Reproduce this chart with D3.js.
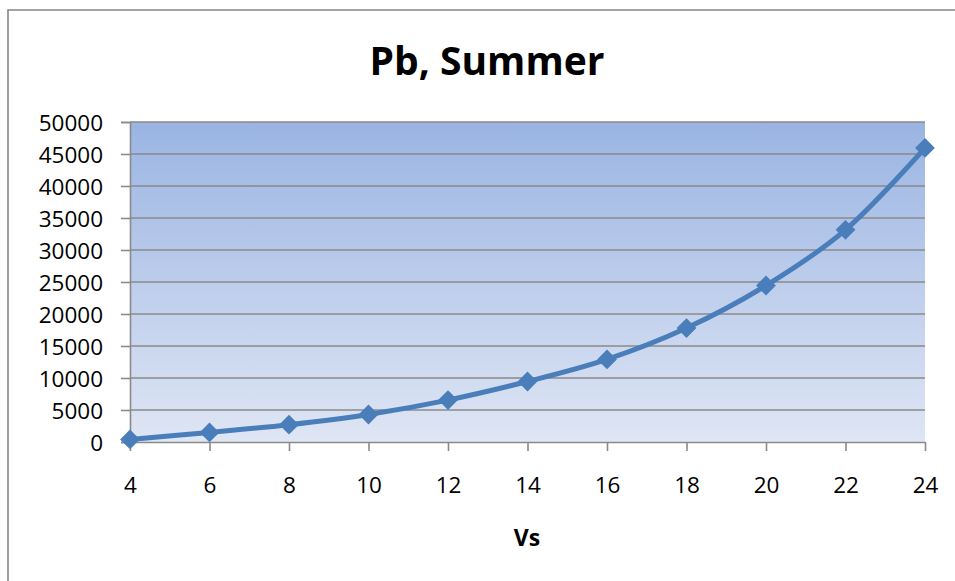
<!DOCTYPE html>
<html>
<head>
<meta charset="utf-8">
<script src="https://cdn.jsdelivr.net/npm/d3@7"></script>
<style>
  html, body { margin: 0; padding: 0; background: #fff; }
  svg { display: block; }
  text { font-family: "Open Sans", "Liberation Sans", Arial, sans-serif; fill: #000; }
</style>
</head>
<body>
<svg id="chart" width="955" height="581"></svg>
<script>
// Pb versus Vs, summer season
const vsValues = [4, 6, 8, 10, 12, 14, 16, 18, 20, 22, 24];
const pbValues = [400, 1500, 2700, 4300, 6550, 9450, 12900, 17800, 24450, 33150, 45950];
const xTickValues = [4, 6, 8, 10, 12, 14, 16, 18, 20, 22, 24];
const yTickValues = [0, 5000, 10000, 15000, 20000, 25000, 30000, 35000, 40000, 45000, 50000];
const chartTitle = "Pb, Summer";
const xAxisTitle = "Vs";

const FONT = "Open Sans, Liberation Sans, Arial, sans-serif";
const svg = d3.select("#chart");
const plot = { left: 130, right: 925, top: 122, bottom: 442 };

const x = d3.scaleLinear().domain([4, 24]).range([plot.left, plot.right]);
const y = d3.scaleLinear().domain([0, 50000]).range([plot.bottom, plot.top]);

// chart frame (left and top edges)
svg.append("path")
  .attr("d", `M8,581 L8,10 L955,10`)
  .attr("fill", "none")
  .attr("stroke", "#878787")
  .attr("stroke-width", 1.6);

// plot area gradient
const defs = svg.append("defs");
const grad = defs.append("linearGradient")
  .attr("id", "plotFill").attr("x1", 0).attr("y1", 0).attr("x2", 0).attr("y2", 1);
grad.append("stop").attr("offset", "0%").attr("stop-color", "#9ab4e3");
grad.append("stop").attr("offset", "100%").attr("stop-color", "#dfe6f4");

svg.append("rect")
  .attr("x", plot.left).attr("y", plot.top)
  .attr("width", plot.right - plot.left).attr("height", plot.bottom - plot.top)
  .attr("fill", "url(#plotFill)");

// horizontal gridlines
svg.append("g")
  .selectAll("line")
  .data(yTickValues.filter(d => d > 0))
  .join("line")
  .attr("x1", plot.left).attr("x2", plot.right)
  .attr("y1", d => y(d)).attr("y2", d => y(d))
  .attr("stroke", "#8a8a8a").attr("stroke-width", 1.6);

// y axis
const yAxis = svg.append("g")
  .attr("transform", `translate(${plot.left},0)`)
  .call(d3.axisLeft(y).tickValues(yTickValues).tickSize(9).tickPadding(18).tickFormat(d3.format("d")));
yAxis.select(".domain").attr("stroke", "#8a8a8a").attr("stroke-width", 1.6);
yAxis.selectAll(".tick line").attr("stroke", "#8a8a8a").attr("stroke-width", 1.6);
yAxis.selectAll(".tick text")
  .attr("font-family", FONT)
  .attr("font-size", 22.5).attr("fill", "#000").attr("dy", "0.36em");

// x axis
const xAxis = svg.append("g")
  .attr("transform", `translate(0,${plot.bottom})`)
  .call(d3.axisBottom(x).tickValues(xTickValues).tickSize(9).tickSizeOuter(0).tickPadding(35).tickFormat(d3.format("d")));
xAxis.select(".domain").attr("stroke", "#8a8a8a").attr("stroke-width", 1.6);
xAxis.selectAll(".tick line").attr("stroke", "#8a8a8a").attr("stroke-width", 1.6);
xAxis.selectAll(".tick text")
  .attr("font-family", FONT)
  .attr("font-size", 22.5).attr("fill", "#000").attr("dy", "0.3em");

// series line (smoothed)
const pts = vsValues.map((v, i) => [v, pbValues[i]]);
svg.append("path")
  .datum(pts)
  .attr("fill", "none")
  .attr("stroke", "#4a7ebb")
  .attr("stroke-width", 5)
  .attr("stroke-linejoin", "round")
  .attr("d", d3.line().x(d => x(d[0])).y(d => y(d[1])).curve(d3.curveCatmullRom.alpha(0.5)));

// diamond markers
svg.append("g")
  .selectAll("path")
  .data(pts)
  .join("path")
  .attr("transform", d => `translate(${x(d[0])},${y(d[1])})`)
  .attr("d", d3.symbol().type(d3.symbolDiamond2).size(250))
  .attr("fill", "#4a7ebb");

// titles
svg.append("text")
  .attr("x", 487).attr("y", 75)
  .attr("text-anchor", "middle")
  .attr("font-family", FONT)
  .attr("font-size", 39).attr("font-weight", "bold")
  .text(chartTitle);

svg.append("text")
  .attr("x", 527).attr("y", 546)
  .attr("text-anchor", "middle")
  .attr("font-family", FONT)
  .attr("font-size", 23).attr("font-weight", "bold")
  .text(xAxisTitle);
</script>
</body>
</html>
